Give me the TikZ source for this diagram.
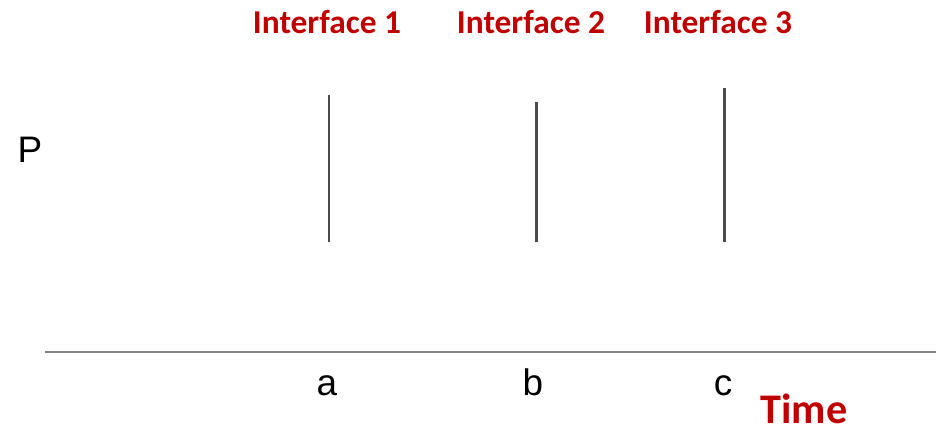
\documentclass[tikz,border=0pt]{standalone}
\usepackage{fontspec}
\setmainfont{Liberation Sans}
\newfontfamily\titlefont{Carlito}
\definecolor{ifred}{RGB}{192,0,0}
\begin{document}
\begin{tikzpicture}[x=0.02cm,y=-0.02cm]
% Estilos
\tikzset{
  iflabel/.style={text=ifred, font=\titlefont\bfseries\fontsize{19}{22}\selectfont, inner sep=0pt},
  ticklabel/.style={font=\fontsize{21}{24}\selectfont, inner sep=0pt, anchor=base},
  ifline/.style={draw=black!70, line width=1.7pt},
  axis/.style={draw=black!50, line width=1.6pt}
}
\useasboundingbox (0,0) rectangle (936,432);

% Eixo do tempo
\coordinate (axis_start) at (45,352);
\coordinate (axis_end) at (936,352);
\draw[axis] (axis_start) -- (axis_end);

% Interfaces
\coordinate (if1_top) at (329,95);
\coordinate (if1_bottom) at (329,242);
\coordinate (if2_top) at (536,102);
\coordinate (if2_bottom) at (536,242);
\coordinate (if3_top) at (724,88);
\coordinate (if3_bottom) at (724,242);
\draw[ifline] (if1_top) -- (if1_bottom);
\draw[ifline] (if2_top) -- (if2_bottom);
\draw[ifline] (if3_top) -- (if3_bottom);

% Rótulos
\node[iflabel] (if1_label) at (327,22) {Interface 1};
\node[iflabel] (if2_label) at (531,22) {Interface 2};
\node[iflabel] (if3_label) at (718,22) {Interface 3};
\node[ticklabel] (p_label) at (30,163) {P};
\node[ticklabel] (a_label) at (327,395) {a};
\node[ticklabel] (b_label) at (533,395) {b};
\node[ticklabel] (c_label) at (723,395) {c};
\node[iflabel, font=\titlefont\bfseries\fontsize{24}{28}\selectfont] (time_label) at (804,409) {Time};
\end{tikzpicture}
\end{document}
